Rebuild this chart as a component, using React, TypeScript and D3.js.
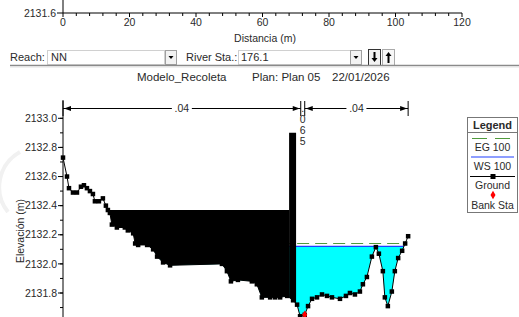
import React from 'react';
import * as d3 from 'd3';

// ground profile (station m, elevation m)
const stations = [0, 1.2, 1.8, 3.0, 4.2, 5.4, 6.3, 7.2, 8.1, 9.0, 9.6, 10.8, 12.0, 12.9, 13.5, 14.1, 14.7, 16.2, 18.6, 19.5, 21.1, 21.7, 22.6, 25.3, 27.1, 28.3, 30.1, 32.2, 47.8, 49.3, 50.5, 52.6, 56.8, 58.3, 59.8, 62.3, 63.8, 65.3, 67.4, 69.2, 70.4, 71.3, 72.7, 73.7, 74.9, 76.4, 77.9, 79.4, 80.9, 83.3, 85.1, 86.3, 87.8, 89.3, 90.2, 91.4, 92.9, 94.1, 95.0, 96.2, 96.8, 97.7, 98.9, 99.8, 100.8, 102.0, 102.9, 103.8];
const elevations = [2132.73, 2132.60, 2132.52, 2132.49, 2132.49, 2132.53, 2132.54, 2132.52, 2132.50, 2132.48, 2132.43, 2132.43, 2132.45, 2132.40, 2132.37, 2132.35, 2132.27, 2132.25, 2132.25, 2132.23, 2132.21, 2132.14, 2132.13, 2132.13, 2132.10, 2132.05, 2132.01, 2131.99, 2132.00, 2131.95, 2131.88, 2131.89, 2131.88, 2131.86, 2131.77, 2131.77, 2131.77, 2131.77, 2131.78, 2131.75, 2131.72, 2131.64, 2131.65, 2131.71, 2131.76, 2131.77, 2131.79, 2131.78, 2131.77, 2131.76, 2131.78, 2131.80, 2131.79, 2131.81, 2131.86, 2131.91, 2132.05, 2132.115, 2132.07, 2131.95, 2131.77, 2131.71, 2131.81, 2131.95, 2132.04, 2132.09, 2132.14, 2132.19];

const wsElev = 2132.12;
const egElev = 2132.14;
const bankStations = [72.7];

// manning's n
const nBreaks = [0, 71.5, 72.7, 103.8];
const nValues = ['.04', '.065', '.04'];

// blocked obstructions
const obsStart = [0, 68.0];
const obsEnd = [68.0, 70.1];
const obsElev = [2132.37, 2132.9];

const xTickLabels = [0, 20, 40, 60, 80, 100, 120];
const yTickLabels = [2131.8, 2132.0, 2132.2, 2132.4, 2132.6, 2132.8, 2133.0];
const legendItems = ['EG 100', 'WS 100', 'Ground', 'Bank Sta'];

const FONT = '"Liberation Sans", Arial, sans-serif';
const TXT = '#2a2a2a';

const ground = stations.map((s, i) => ({ s, g: elevations[i] }));

const groundAt = (s: number) => {
  const i = d3.bisector((d: { s: number }) => d.s).left(ground, s);
  if (i <= 0) return ground[0].g;
  if (i >= ground.length) return ground[ground.length - 1].g;
  const a = ground[i - 1], b = ground[i];
  return a.g + (b.g - a.g) * (s - a.s) / (b.s - a.s);
};

// ground points in [a,b] with crossings of a level inserted
const clipped = (a: number, b: number, level: number) => {
  const pts: { s: number; g: number }[] = [{ s: a, g: groundAt(a) }];
  ground.forEach(p => { if (p.s > a && p.s < b) pts.push(p); });
  pts.push({ s: b, g: groundAt(b) });
  const out: { s: number; g: number }[] = [];
  pts.forEach((p, i) => {
    if (i > 0) {
      const q = pts[i - 1];
      if ((q.g - level) * (p.g - level) < 0) {
        const t = (level - q.g) / (p.g - q.g);
        out.push({ s: q.s + t * (p.s - q.s), g: level });
      }
    }
    out.push(p);
  });
  return out;
};

const extent = (level: number) => {
  const pts = clipped(0, stations[stations.length - 1], level);
  const wet = pts.filter(p => p.g <= level);
  return [wet[0].s, wet[wet.length - 1].s];
};

const App: React.FC = () => {
  const x = d3.scaleLinear().domain([0, 120]).range([63, 462]);
  const y = d3.scaleLinear().domain([2131.8, 2133.0]).range([293, 118.3]);

  const fillArea = (level: number) =>
    d3.area<{ s: number; g: number }>()
      .x(d => x(d.s))
      .y0(d => y(Math.min(d.g, level)))
      .y1(() => y(level));

  const waterPts = clipped(0, stations[stations.length - 1], wsElev);
  const [wsL, wsR] = extent(wsElev);
  const [egL, egR] = extent(egElev);

  const groundLine = d3.line<{ s: number; g: number }>().x(d => x(d.s)).y(d => y(d.g));

  const minorX = d3.range(0, 121, 4);
  const minorY = d3.range(2131.7, 2133.05, 0.1);

  const rulerY = 108.5;

  return (
    <div style={{ position: 'absolute', left: 0, top: 0 }}>
      <svg width={519} height={317} style={{ display: 'block', background: '#fff' }} fontFamily={FONT}>
        {/* faint watermark */}
        <path d="M 20 152 A 40 40 0 0 0 8 212" fill="none" stroke="#f1f1f1" strokeWidth={4} />

        {/* previous chart bottom axis */}
        <line x1={63} x2={63} y1={0} y2={13} stroke="#000" />
        <line x1={57} x2={63} y1={13} y2={13} stroke="#000" />
        <text x={56} y={13} dy="0.35em" fontSize={10.5} textAnchor="end" fill={TXT}>2131.6</text>
        <line x1={x(0)} x2={x(120)} y1={13} y2={13} stroke="#000" />
        {minorX.map(t => (
          <line key={t} x1={x(t)} x2={x(t)} y1={13} y2={t % 20 === 0 ? 17 : 16} stroke="#000" />
        ))}
        {xTickLabels.map(t => (
          <text key={t} x={x(t)} y={26} fontSize={10.5} textAnchor="middle" fill={TXT}>{t}</text>
        ))}
        <text x={265} y={42} fontSize={10.5} textAnchor="middle" fill={TXT}>Distancia (m)</text>

        {/* toolbar */}
        <text x={10} y={61} fontSize={11} fill={TXT}>Reach:</text>
        <rect x={47.5} y={50.5} width={117} height={14} fill="#fff" stroke="#d0d0d0" />
        <text x={51} y={61} fontSize={11} fill={TXT}>NN</text>
        <rect x={165.5} y={50.5} width={11} height={14} fill="#f2f2f2" stroke="#a0a0a0" />
        <path d="M 168.5 56 L 173.5 56 L 171 59 Z" fill="#000" />
        <text x={186} y={61} fontSize={11} fill={TXT}>River Sta.:</text>
        <rect x={238.5} y={50.5} width={112} height={14} fill="#fff" stroke="#d0d0d0" />
        <text x={241} y={61} fontSize={11} fill={TXT}>176.1</text>
        <rect x={350.5} y={50.5} width={11} height={14} fill="#f2f2f2" stroke="#a0a0a0" />
        <path d="M 353.5 56 L 358.5 56 L 356 59 Z" fill="#000" />
        <rect x={368.5} y={49.5} width={12} height={16} fill="#f2f2f2" stroke="#333" />
        <path d="M 374.5 52 L 374.5 60" stroke="#000" strokeWidth={2} />
        <path d="M 371.5 58 L 377.5 58 L 374.5 62 Z" fill="#000" />
        <rect x={382.5} y={49.5} width={12} height={16} fill="#f7f7f7" stroke="#aaa" />
        <path d="M 388.5 55 L 388.5 63" stroke="#000" strokeWidth={2} />
        <path d="M 385.5 56 L 391.5 56 L 388.5 52 Z" fill="#000" />
        <line x1={10} x2={519} y1={65.5} y2={65.5} stroke="#8a8a8a" strokeWidth={1.5} />
        <line x1={10} x2={519} y1={67} y2={67} stroke="#e2e2e2" />

        {/* title */}
        <text x={137} y={81} fontSize={11.5} fill={TXT}>Modelo_Recoleta</text>
        <text x={252} y={81} fontSize={11.5} fill={TXT}>Plan: Plan 05</text>
        <text x={332} y={81} fontSize={11.5} fill={TXT}>22/01/2026</text>

        {/* water */}
        <path d={fillArea(wsElev)(waterPts) ?? ''} fill="#00ffff" />
        <line x1={x(egL)} x2={x(egR)} y1={y(egElev)} y2={y(egElev)} stroke="#4f9a3c" strokeWidth={1} strokeDasharray="12,6" />
        <line x1={x(wsL)} x2={x(wsR)} y1={y(wsElev)} y2={y(wsElev)} stroke="#1f3fff" strokeWidth={1.2} />

        {/* obstructions */}
        {obsElev.map((el, i) => (
          <path key={i} d={fillArea(el)(clipped(obsStart[i], obsEnd[i], el)) ?? ''} fill="#000" />
        ))}

        {/* ground */}
        <path d={groundLine(ground) ?? ''} fill="none" stroke="#000" strokeWidth={1} />
        {ground.map((p, i) => (
          <rect key={i} x={x(p.s) - 2.25} y={y(p.g) - 2.25} width={4.5} height={4.5} fill="#000" />
        ))}
        {bankStations.map(s => (
          <path key={s} d={d3.symbol(d3.symbolDiamond, 22)() ?? ''}
            transform={`translate(${x(s)},${y(groundAt(s))})`} fill="#ff0000" />
        ))}

        {/* manning's n ruler */}
        {nBreaks.map((b, i) => (
          <line key={i} x1={x(b)} x2={x(b)} y1={101} y2={116} stroke="#000" />
        ))}
        {nValues.map((v, i) => {
          const xa = x(nBreaks[i]), xb = x(nBreaks[i + 1]);
          const xc = (xa + xb) / 2;
          if (xb - xa < 20) {
            return (
              <g key={i}>
                {v.split('').map((ch, j) => (
                  <text key={j} x={xc} y={rulerY + j * 11} dy="0.35em" fontSize={10.5}
                    textAnchor="middle" fill={TXT}>{ch}</text>
                ))}
              </g>
            );
          }
          return (
            <g key={i}>
              <line x1={xa} x2={xc - 10} y1={rulerY} y2={rulerY} stroke="#000" />
              <line x1={xc + 10} x2={xb} y1={rulerY} y2={rulerY} stroke="#000" />
              <path d={`M ${xa + 1} ${rulerY} L ${xa + 8} ${rulerY - 2.5} L ${xa + 8} ${rulerY + 2.5} Z`} fill="#000" />
              <path d={`M ${xb - 1} ${rulerY} L ${xb - 8} ${rulerY - 2.5} L ${xb - 8} ${rulerY + 2.5} Z`} fill="#000" />
              <text x={xc} y={rulerY} dy="0.35em" fontSize={10.5} textAnchor="middle" fill={TXT}>{v}</text>
            </g>
          );
        })}

        {/* y axis */}
        <line x1={63} x2={63} y1={100} y2={317} stroke="#000" />
        {minorY.map((t, i) => (
          <line key={i} x1={60} x2={63} y1={y(t)} y2={y(t)} stroke="#000" />
        ))}
        {yTickLabels.map(t => (
          <g key={t}>
            <line x1={58} x2={63} y1={y(t)} y2={y(t)} stroke="#000" />
            <text x={57} y={y(t)} dy="0.35em" fontSize={10.5} textAnchor="end" fill={TXT}>{t.toFixed(1)}</text>
          </g>
        ))}
        <text transform={`translate(24,${231}) rotate(-90)`} fontSize={10.5} textAnchor="middle" fill={TXT}>Elevación (m)</text>

        {/* legend */}
        <g>
          <rect x={467.5} y={117.5} width={50} height={95} fill="#fff" stroke="#777" />
          <line x1={467.5} x2={517.5} y1={132.5} y2={132.5} stroke="#777" />
          <text x={492.5} y={125} dy="0.35em" fontSize={11} fontWeight="bold" textAnchor="middle" fill={TXT}>Legend</text>
          <line x1={472} x2={487} y1={138.5} y2={138.5} stroke="#4f9a3c" />
          <line x1={495} x2={510} y1={138.5} y2={138.5} stroke="#4f9a3c" />
          <line x1={471} x2={514} y1={157} y2={157} stroke="#1f3fff" strokeWidth={1.2} />
          <line x1={470} x2={515} y1={176.5} y2={176.5} stroke="#000" />
          <rect x={490.5} y={174} width={5} height={5} fill="#000" />
          <path d={d3.symbol(d3.symbolDiamond, 22)() ?? ''} transform="translate(493,195)" fill="#ff0000" />
          {legendItems.map((t, i) => (
            <text key={t} x={492.5} y={147 + i * 19.3} dy="0.35em" fontSize={10.5} textAnchor="middle" fill={TXT}>{t}</text>
          ))}
        </g>
      </svg>
    </div>
  );
};

export default App;
